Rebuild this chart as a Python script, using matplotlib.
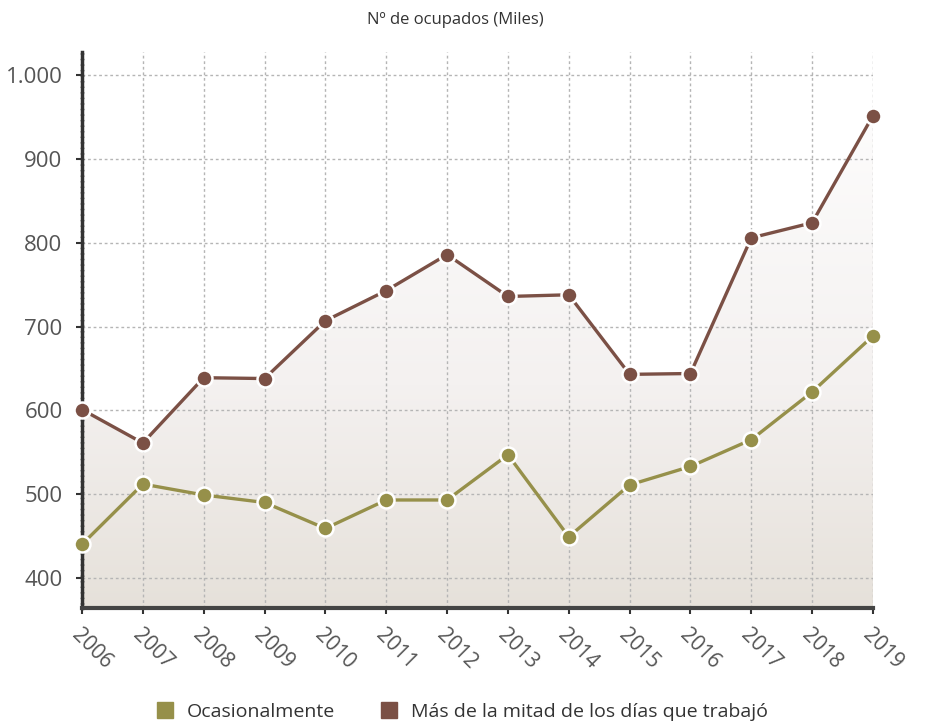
import numpy as np
import matplotlib.pyplot as plt
from matplotlib.patches import Polygon
from matplotlib.lines import Line2D
from matplotlib.ticker import FuncFormatter

plt.rcParams['font.family'] = ['Open Sans', 'DejaVu Sans']

years = [2006, 2007, 2008, 2009, 2010, 2011, 2012, 2013, 2014, 2015, 2016, 2017, 2018, 2019]
ocasional = [440, 512, 499, 490, 459, 493, 493, 547, 449, 511, 533, 565, 622, 689]
mas_mitad = [601, 561, 639, 638, 707, 743, 786, 736, 738, 643, 644, 806, 824, 952]

c_green = '#96904a'
c_brown = '#7b5045'
y0, y1 = 364, 1028

fig = plt.figure(figsize=(9.38, 7.26), dpi=100)
ax = fig.add_axes([0.0874, 0.1625, 0.8433, 0.766])
ax.set_xlim(years[0], years[-1])
ax.set_ylim(y0, y1)

# gradient fills under both series
grad = np.linspace(0, 1, 256).reshape(-1, 1)
top = np.array([1.0, 1.0, 1.0])
mid = np.array([0xf4, 0xf1, 0xf0]) / 255
bot = np.array([0xe6, 0xe1, 0xda]) / 255
g = grad[..., None]
img = np.where(g < 0.6, top + (mid - top) * (g / 0.6), mid + (bot - mid) * ((g - 0.6) / 0.4))
for vals, a in [(mas_mitad, 1.0), (ocasional, 0.3)]:
    verts = [(years[0], y0)] + list(zip(years, vals)) + [(years[-1], y0)]
    poly = Polygon(verts, closed=True, facecolor='none', edgecolor='none')
    ax.add_patch(poly)
    im = ax.imshow(img, extent=[years[0], years[-1], y0, y1], origin='upper',
                   aspect='auto', alpha=a, zorder=1)
    im.set_clip_path(poly)

ax.grid(True, color='#b5b5b5', linestyle=(0, (2, 2)), linewidth=1, zorder=2)

ax.plot(years, mas_mitad, color=c_brown, lw=2.4, marker='o', ms=11.5,
        mfc=c_brown, mec='white', mew=1.8, zorder=4, clip_on=False)
ax.plot(years, ocasional, color=c_green, lw=2.4, marker='o', ms=11.5,
        mfc=c_green, mec='white', mew=1.8, zorder=4, clip_on=False)

ax.set_xticks(years)
ax.set_xticklabels([str(y) for y in years], rotation=-45, ha='left',
                   rotation_mode='anchor', fontsize=15, color='#555555')
ax.set_yticks([400, 500, 600, 700, 800, 900, 1000])
ax.yaxis.set_major_formatter(FuncFormatter(lambda v, p: f'{int(v):,}'.replace(',', '.')))
ax.tick_params(axis='y', labelsize=16, colors='#555555', length=4, width=1.5, pad=10)
ax.tick_params(axis='y', color='#333333')
ax.tick_params(axis='x', length=4, width=1.5, color='#333333', pad=8)

for s in ['top', 'right']:
    ax.spines[s].set_visible(False)
ax.spines['bottom'].set_color('#444444')
ax.spines['bottom'].set_linewidth(3)
ax.spines['left'].set_color('#333333')
ax.spines['left'].set_linewidth(2.5)
ax.spines['left'].set_linestyle((0, (1, 0.6)))

fig.text(0.485, 0.972, 'Nº de ocupados (Miles)', ha='center', va='center',
         fontsize=12, color='#333333')

handles = [Line2D([], [], marker='s', ls='none', ms=11, color=c_green),
           Line2D([], [], marker='s', ls='none', ms=11, color=c_brown)]
fig.legend(handles, ['Ocasionalmente', 'Más de la mitad de los días que trabajó'],
           loc='center', bbox_to_anchor=(0.487, 0.019), ncol=2, frameon=False,
           fontsize=14, handletextpad=0.1, columnspacing=1.8, labelcolor='#333333')

fig.savefig('out.png', dpi=100, facecolor='white')
